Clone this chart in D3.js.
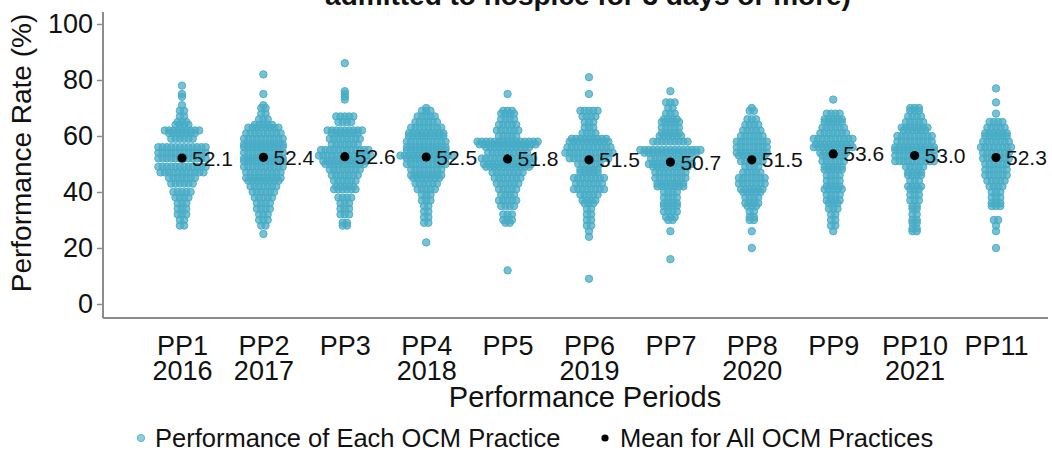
<!DOCTYPE html>
<html>
<head>
<meta charset="utf-8">
<script src="https://cdn.jsdelivr.net/npm/d3@7"></script>
<style>
  html, body { margin: 0; padding: 0; background: #fff; }
  svg { display: block; font-family: "Liberation Sans", Arial, sans-serif; }
</style>
</head>
<body>
<svg id="chart" width="1052" height="450"></svg>
<script>
// Performance periods and the year each one falls in
const periods = ["PP1", "PP2", "PP3", "PP4", "PP5", "PP6", "PP7", "PP8", "PP9", "PP10", "PP11"];
const years = ["2016", "2017", "", "2018", "", "2019", "", "2020", "", "2021", ""];
const means = [52.1, 52.4, 52.6, 52.5, 51.8, 51.5, 50.7, 51.5, 53.6, 53.0, 52.3];
const yTicks = [0, 20, 40, 60, 80, 100];

// Practice-level rates per period, as [rate %, number of practices at that rate]
const pp1Rows = [[78,1],[75,1],[74,1],[71,1],[69,2],[67,2],[65,3],[64,4],[62,9],[61,7],[59,6],[56,12],[54,12],[52,12],[49,12],[47,11],[45,7],[43,6],[40,5],[38,4],[36,3],[34,3],[32,3],[30,2],[28,2]];
const pp2Rows = [[82,1],[75,1],[71,1],[70,2],[68,2],[66,3],[64,5],[63,8],[61,9],[59,10],[57,10],[56,10],[54,10],[52,10],[51,10],[49,10],[47,9],[45,9],[44,8],[42,7],[40,6],[38,5],[36,4],[34,4],[32,3],[30,3],[28,2],[25,1]];
const pp3Rows = [[86,1],[76,1],[75,1],[74,1],[73,1],[67,5],[65,4],[62,9],[61,7],[59,8],[57,7],[55,12],[53,13],[51,11],[50,10],[48,8],[46,7],[44,6],[42,5],[41,6],[38,4],[36,3],[34,3],[32,3],[29,2],[28,2]];
const pp4Rows = [[70,1],[69,3],[67,5],[65,6],[63,8],[61,9],[60,9],[58,10],[56,10],[55,10],[53,13],[52,10],[50,10],[48,8],[46,8],[45,7],[43,6],[41,5],[39,3],[37,3],[35,2],[33,2],[31,2],[29,2],[22,1]];
const pp5Rows = [[75,1],[69,3],[68,4],[66,4],[64,5],[62,6],[60,5],[58,15],[57,14],[56,11],[54,10],[52,13],[50,12],[49,11],[47,8],[45,7],[43,6],[41,5],[39,4],[37,5],[35,4],[32,3],[30,3],[29,2],[12,1]];
const pp6Rows = [[81,1],[75,1],[69,5],[67,4],[65,3],[63,3],[61,4],[59,9],[58,10],[56,11],[54,12],[52,10],[50,6],[48,5],[47,5],[45,8],[43,7],[41,8],[39,5],[37,4],[36,3],[34,2],[32,2],[30,2],[28,2],[26,1],[24,1],[9,1]];
const pp7Rows = [[76,1],[72,3],[70,2],[68,3],[66,4],[65,5],[63,5],[61,5],[60,6],[58,9],[55,15],[54,13],[52,10],[50,11],[49,9],[47,8],[45,8],[43,7],[42,7],[40,4],[38,4],[36,4],[35,4],[33,4],[31,3],[30,2],[26,1],[16,1]];
const pp8Rows = [[70,1],[69,2],[66,3],[64,4],[62,5],[60,6],[58,8],[56,8],[54,8],[53,7],[51,6],[49,4],[47,5],[45,7],[43,7],[41,6],[40,5],[38,4],[36,4],[35,3],[33,2],[31,2],[30,2],[26,1],[20,1]];
const pp9Rows = [[73,1],[68,4],[66,5],[65,5],[63,6],[61,7],[59,10],[57,9],[56,10],[54,7],[53,6],[51,6],[49,5],[48,5],[46,4],[44,4],[42,4],[41,5],[39,4],[37,4],[36,3],[34,3],[32,2],[30,2],[28,2],[26,1]];
const pp10Rows = [[70,3],[69,3],[67,4],[65,5],[63,7],[62,6],[60,9],[58,9],[56,10],[55,10],[53,10],[51,10],[49,5],[47,4],[46,4],[44,3],[42,4],[41,3],[39,3],[37,3],[35,2],[34,2],[32,2],[30,2],[29,2],[27,2],[26,2]];
const pp11Rows = [[77,1],[72,1],[68,1],[65,4],[63,5],[61,6],[60,6],[58,7],[56,8],[54,7],[52,7],[50,6],[48,6],[46,6],[44,5],[42,4],[40,3],[38,3],[36,3],[35,3],[30,2],[28,1],[26,1],[20,1]];
const periodRows = [pp1Rows, pp2Rows, pp3Rows, pp4Rows, pp5Rows, pp6Rows, pp7Rows, pp8Rows, pp9Rows, pp10Rows, pp11Rows];

const svg = d3.select("#chart");
const dotColor = "#48acc6";
const textColor = "#111";
const axisColor = "#8c8c8c";

const plot = { left: 103, right: 1048, top: 10, bottom: 318 };

const x = d3.scalePoint().domain(periods).range([182, 996]);
const y = d3.scaleLinear().domain([-5, 105]).range([plot.bottom, plot.top]);

// Title (upper part lies above the visible area)
svg.append("text")
  .attr("x", 588).attr("y", 5)
  .attr("text-anchor", "middle")
  .attr("font-size", 28).attr("font-weight", "bold")
  .attr("fill", textColor)
  .text("admitted to hospice for 3 days or more)");

// Y axis
const yAxis = d3.axisLeft(y).tickValues(yTicks).tickSize(6).tickPadding(4);
const gy = svg.append("g").attr("transform", `translate(${plot.left},0)`).call(yAxis);
gy.select(".domain").remove();
gy.selectAll(".tick line").attr("stroke", axisColor).attr("stroke-width", 1.5);
gy.selectAll(".tick text").attr("font-size", 27).attr("fill", textColor)
  .attr("font-family", "'Liberation Sans', Arial, sans-serif");
svg.append("line")
  .attr("x1", plot.left).attr("x2", plot.left)
  .attr("y1", plot.top + 2).attr("y2", plot.bottom)
  .attr("stroke", axisColor).attr("stroke-width", 2);

// X axis
svg.append("line")
  .attr("x1", plot.left).attr("x2", plot.right)
  .attr("y1", plot.bottom).attr("y2", plot.bottom)
  .attr("stroke", axisColor).attr("stroke-width", 2);
const xAxis = d3.axisBottom(x).tickSize(0).tickPadding(0).tickFormat(() => "");
const gx = svg.append("g").attr("transform", `translate(0,${plot.bottom})`).call(xAxis);
gx.select(".domain").remove();
gx.selectAll(".tick").each(function(d, i) {
  const t = d3.select(this).append("text")
    .attr("text-anchor", "middle").attr("font-size", 27).attr("fill", textColor)
    .attr("font-family", "'Liberation Sans', Arial, sans-serif");
  t.append("tspan").attr("x", 0).attr("y", 37).text(d);
  t.append("tspan").attr("x", 0).attr("y", 62).text(years[i]);
});

// Axis titles
svg.append("text")
  .attr("x", 585).attr("y", 407)
  .attr("text-anchor", "middle").attr("font-size", 29).attr("fill", textColor)
  .text("Performance Periods");
svg.append("text")
  .attr("transform", "translate(31,153) rotate(-90)")
  .attr("text-anchor", "middle").attr("font-size", 28).attr("fill", textColor)
  .text("Performance Rate (%)");

// Dot plot: each rate row is spread symmetrically around the period centre
const step = 4.3;
const dots = [];
periodRows.forEach((rows, pi) => {
  rows.forEach(([v, n]) => {
    for (let k = 0; k < n; k++) {
      dots.push({ period: periods[pi], value: v, offset: (k - (n - 1) / 2) * step });
    }
  });
});

svg.append("g").selectAll("circle").data(dots).join("circle")
  .attr("cx", d => x(d.period) + d.offset)
  .attr("cy", d => y(d.value))
  .attr("r", 3.7)
  .attr("fill", dotColor).attr("fill-opacity", 0.75)
  .attr("stroke", dotColor).attr("stroke-opacity", 0.9).attr("stroke-width", 1);

// Means and their labels
const meanG = svg.append("g").selectAll("g").data(periods).join("g")
  .attr("transform", (d, i) => `translate(${x(d)},${y(means[i])})`);
meanG.append("circle").attr("r", 4.6).attr("fill", "#000");
meanG.append("text")
  .attr("x", 10).attr("y", 7.5)
  .attr("font-size", 21).attr("fill", textColor)
  .text((d, i) => means[i].toFixed(1));

// Legend
const legend = svg.append("g").attr("transform", "translate(0,438)");
legend.append("circle").attr("cx", 141).attr("cy", 0).attr("r", 3.6)
  .attr("fill", dotColor).attr("fill-opacity", 0.6)
  .attr("stroke", dotColor).attr("stroke-opacity", 0.85);
legend.append("text").attr("x", 155).attr("y", 9).attr("font-size", 25.5).attr("fill", textColor)
  .text("Performance of Each OCM Practice");
legend.append("circle").attr("cx", 605).attr("cy", 0).attr("r", 3.6).attr("fill", "#000");
legend.append("text").attr("x", 620).attr("y", 9).attr("font-size", 25.5).attr("fill", textColor)
  .text("Mean for All OCM Practices");
</script>
</body>
</html>
